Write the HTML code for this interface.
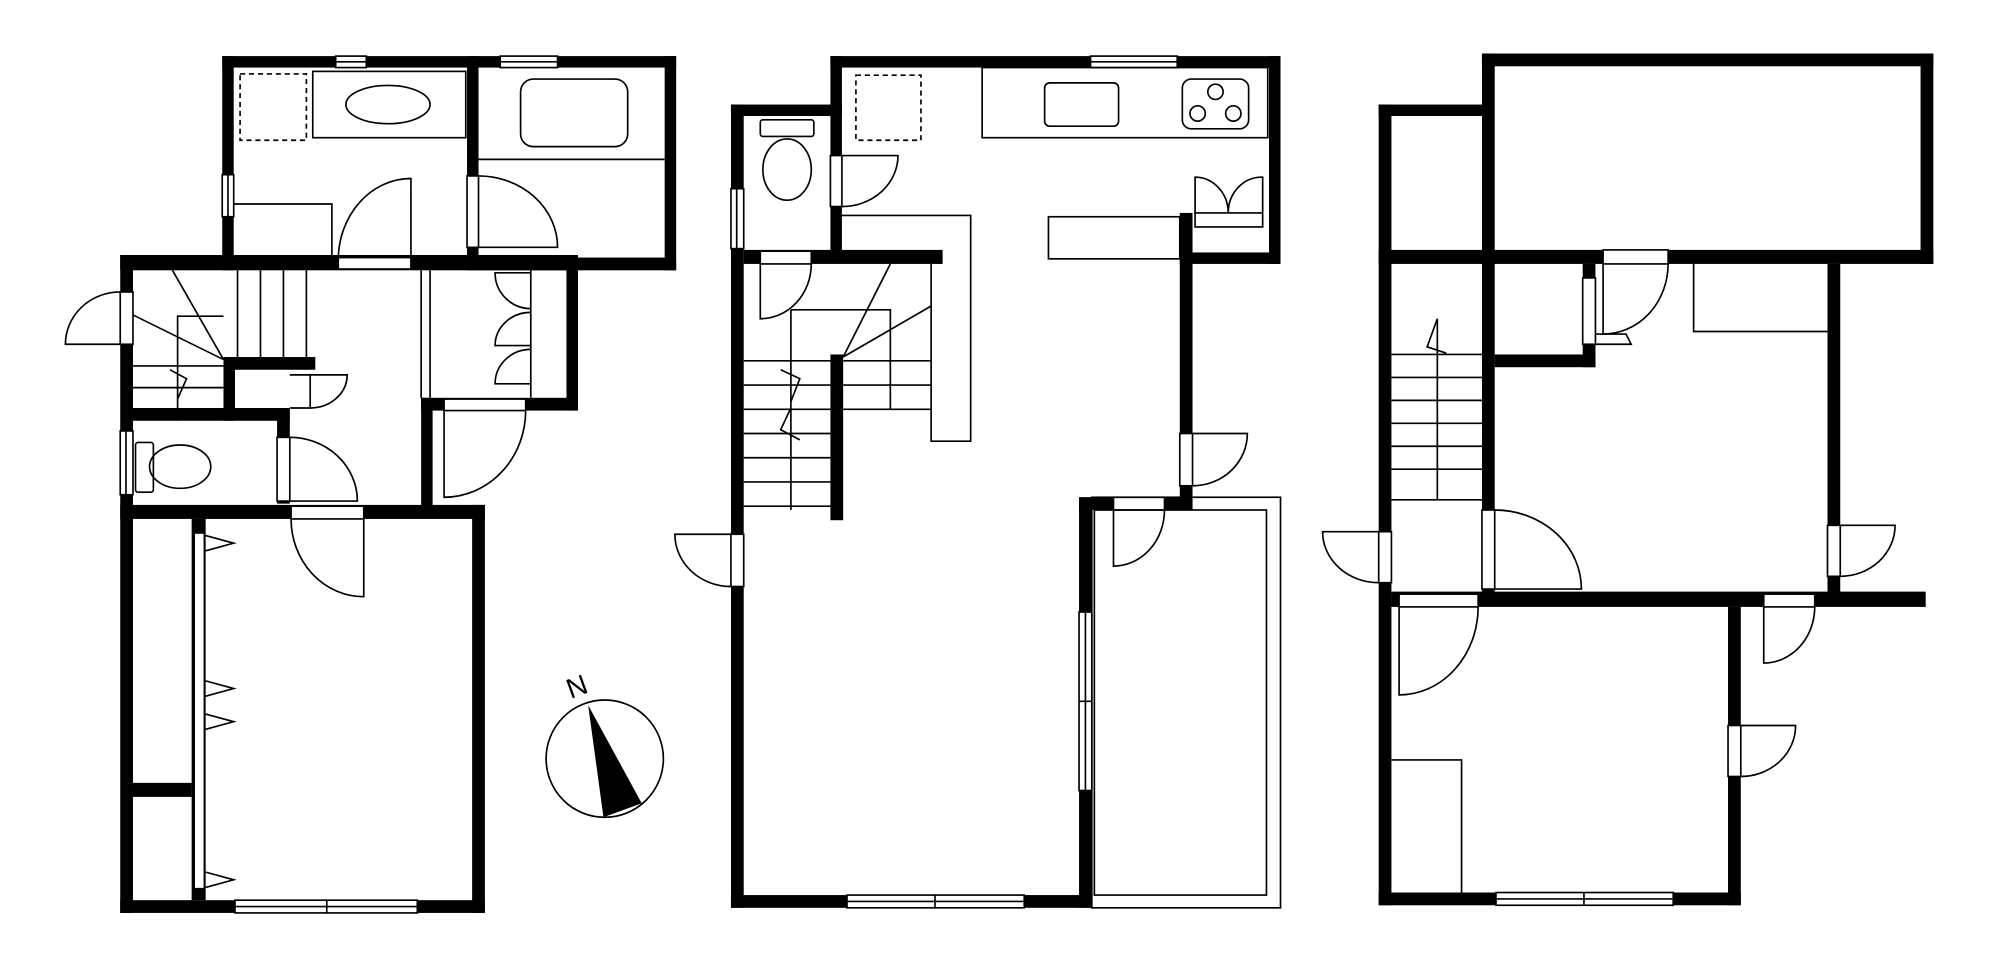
<!DOCTYPE html>
<html><head><meta charset="utf-8"><style>html,body{margin:0;padding:0;background:#fff}svg{display:block}</style></head><body>
<svg width="2000" height="955" viewBox="0 0 1568 749" xmlns="http://www.w3.org/2000/svg">
<g fill="#000">
<rect x="174" y="44" width="356" height="9"/>
<rect x="521" y="44" width="9" height="168"/>
<rect x="174" y="44" width="9" height="168"/>
<rect x="366" y="44" width="9" height="168"/>
<rect x="375" y="202" width="155" height="10"/>
<rect x="94" y="200" width="359" height="12"/>
<rect x="94" y="200" width="10" height="516"/>
<rect x="444" y="200" width="9" height="122"/>
<rect x="330" y="312" width="123" height="10"/>
<rect x="330" y="312" width="9" height="93"/>
<rect x="175" y="280" width="72" height="10"/>
<rect x="175" y="280" width="9" height="50"/>
<rect x="104" y="320" width="123" height="10"/>
<rect x="217" y="320" width="10" height="75"/>
<rect x="94" y="396" width="286" height="11"/>
<rect x="370" y="396" width="10" height="320"/>
<rect x="94" y="706" width="286" height="10"/>
<rect x="150" y="407" width="11" height="299"/>
<rect x="104" y="614" width="46" height="11"/>
<rect x="651" y="44" width="353" height="9"/>
<rect x="995" y="44" width="9" height="163"/>
<rect x="925" y="198" width="79" height="9"/>
<rect x="925" y="167" width="10" height="233"/>
<rect x="573" y="82" width="87" height="9"/>
<rect x="651" y="44" width="9" height="156"/>
<rect x="573" y="82" width="10" height="630"/>
<rect x="583" y="196" width="156" height="11"/>
<rect x="651" y="278" width="10" height="130"/>
<rect x="573" y="702" width="283" height="10"/>
<rect x="846" y="390" width="10" height="322"/>
<rect x="846" y="390" width="89" height="10"/>
<rect x="1162" y="42" width="354" height="10"/>
<rect x="1506" y="42" width="10" height="165"/>
<rect x="1081" y="82" width="10" height="628"/>
<rect x="1081" y="82" width="81" height="9"/>
<rect x="1081" y="196" width="435" height="11"/>
<rect x="1162" y="42" width="10" height="428"/>
<rect x="1241" y="207" width="10" height="81"/>
<rect x="1172" y="278" width="79" height="10"/>
<rect x="1433" y="207" width="10" height="263"/>
<rect x="1091" y="464" width="419" height="12"/>
<rect x="1355" y="476" width="10" height="234"/>
<rect x="1081" y="700" width="284" height="10"/>
</g>

<g fill="#fff" stroke="#000" stroke-width="1.3">
<rect x="263" y="44" width="24" height="9"/><rect x="392" y="44" width="45" height="9"/>
<rect x="174" y="137" width="9" height="33"/>
<rect x="265" y="202" width="57" height="9"/>
<rect x="94" y="229" width="10" height="41"/>
<rect x="94" y="338" width="10" height="50"/>
<rect x="366" y="138" width="9" height="56"/>
<rect x="348" y="313" width="64" height="9"/>
<rect x="217" y="343" width="10" height="50"/>
<rect x="228" y="397" width="57" height="10"/>
<rect x="184" y="706" width="143" height="10"/>
<rect x="152" y="418" width="8" height="279"/>
<rect x="855" y="44" width="68" height="9"/>
<rect x="573" y="148" width="10" height="47"/>
<rect x="651" y="122" width="9" height="40"/>
<rect x="596" y="197" width="40" height="10"/>
<rect x="573" y="419" width="10" height="41"/>
<rect x="664" y="702" width="139" height="10"/>
<rect x="846" y="480" width="10" height="140"/>
<rect x="873" y="390" width="40" height="10"/>
<rect x="925" y="340" width="10" height="41"/>
<rect x="1257" y="196" width="51" height="11"/>
<rect x="1241" y="218" width="10" height="52"/>
<rect x="1162" y="400" width="10" height="62"/>
<rect x="1081" y="417" width="10" height="40"/>
<rect x="1097" y="466" width="62" height="10"/>
<rect x="1383" y="466" width="40" height="10"/>
<rect x="1433" y="412" width="10" height="40"/>
<rect x="1355" y="569" width="10" height="40"/>
<rect x="1173" y="700" width="139" height="10"/>
</g>

<g fill="none" stroke="#000" stroke-width="1.3">
<path d="M263 48.5H287M392 48.5H437M178.5 137V170M98.5 338V388M855 48.5H923M577.5 148V195M184 711H327M664 707H803M851 480V620M1173 705H1312M256 706V716M733 702V712M1242 700V710M846 550H856"/>
<rect x="188" y="58" width="52" height="52" stroke-dasharray="4 3"/>
<rect x="245" y="56" width="120" height="52"/>
<ellipse cx="304" cy="82" rx="33" ry="15"/>
<rect x="408" y="62" width="84" height="53" rx="10"/>
<path d="M375 125H521"/>
<path d="M183 160H260V204"/>
<path d="M322 204V140A57 64 0 0 0 265 204"/>
<path d="M375 194H437A62 56 0 0 0 375 138"/>
<path d="M94 270H51A43 41 0 0 1 94 229"/>
<path d="M227 294H243M243 320V294H272A29 26 0 0 1 243 320H227"/>
<path d="M348 322V390A64 68 0 0 0 412 322"/>
<path d="M227 393H280A53 50 0 0 0 227 343"/>
<path d="M285 407V468A57 61 0 0 1 228 407"/>
<path d="M186 212V280M204 212V280M222 212V280M240 212V280M104 287H175M104 304H175M135 212L175 282M104 247L175 282M139 330V248H175M133 290L146 297L139 313"/>
<path d="M330 212V312M337 212V312M416 212V312"/>
<path d="M416 214H388A28 28 0 0 0 416 242M416 245A28 26 0 0 0 388 271H416M416 274A28 27 0 0 0 388 301H416"/>
<path d="M161 420L183 426L161 432M161 534L183 540L161 546M161 560L183 566L161 572M161 684L183 690L161 696"/>
<ellipse cx="141" cy="366" rx="24" ry="17"/>
<rect x="106" y="347" width="14" height="39" rx="2"/>
<rect x="671" y="59" width="51" height="51" stroke-dasharray="4 3"/>
<rect x="770" y="53" width="224" height="55"/>
<rect x="819" y="65" width="58" height="34" rx="4"/>
<rect x="927" y="62" width="52" height="39" rx="7"/>
<circle cx="953" cy="72" r="6"/><circle cx="939" cy="89" r="6"/><circle cx="967" cy="89" r="6"/>
<rect x="596" y="94" width="42" height="13" rx="2"/>
<ellipse cx="617" cy="133" rx="19" ry="24"/>
<path d="M660 122H704A44 40 0 0 1 660 162"/>
<path d="M660 169H761V346H730V207"/>
<rect x="822" y="170" width="103" height="33"/>
<rect x="937" y="167" width="53" height="11"/>
<path d="M937 167V139A26 28 0 0 1 963 167M990 167V139A26 28 0 0 0 963 167"/>
<path d="M596 207V250A40 43 0 0 0 636 207"/>
<path d="M583 283H651M583 302H651M583 321H651M583 340H651M583 359H651M583 378H651M583 397H651M620 243V400M620 243H698V321M661 283H730M661 302H730M661 321H730M661 280L698 207M661 280L730 240M612 290L627 297L620 315M627 345L612 337L620 320"/>
<path d="M935 340H978A43 41 0 0 1 935 381"/>
<path d="M873 400V444A40 44 0 0 0 913 400"/>
<path d="M573 419H529A44 41 0 0 0 573 460"/>
<rect x="856" y="390" width="148" height="322"/>
<rect x="858" y="400" width="135" height="302"/>
<circle cx="474" cy="595" r="46"/>
<path d="M1091 278H1162M1091 296H1162M1091 314H1162M1091 332H1162M1091 350H1162M1091 368H1162M1091 392H1162M1127 250V392M1127 250L1119 272L1134 277"/>
<path d="M1328 207V260H1433"/>
<path d="M1091 596H1146V700"/>
<path d="M1257 207V262A51 55 0 0 0 1308 207"/>
<path d="M1251 262H1275L1279 270H1251"/>
<path d="M1172 462H1240A68 62 0 0 0 1172 400"/>
<path d="M1097 476V545A62 69 0 0 0 1159 476"/>
<path d="M1383 476V520A40 44 0 0 0 1423 476"/>
<path d="M1365 569H1408A43 40 0 0 1 1365 609"/>
<path d="M1443 412H1486A43 40 0 0 1 1443 452"/>
<path d="M1081 417H1037A44 40 0 0 0 1081 457"/>
</g>
<polygon points="461,553 473,641 503,630" fill="#000"/>
<text x="452" y="546" font-family="Liberation Sans, sans-serif" font-size="22" transform="rotate(-20 452 538)" text-anchor="middle">N</text>
</svg>
</body></html>
